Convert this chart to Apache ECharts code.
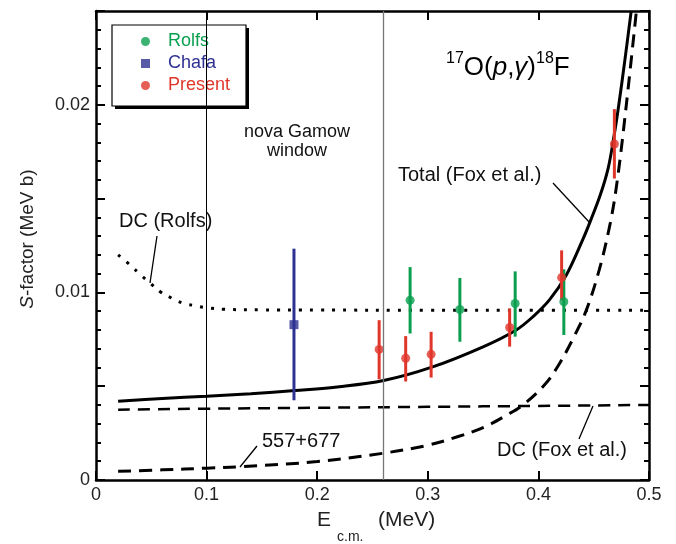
<!DOCTYPE html>
<html>
<head>
<meta charset="utf-8">
<script src="https://cdn.jsdelivr.net/npm/echarts@6/dist/echarts.min.js"></script>
<style>
  html, body { margin: 0; padding: 0; background: #fff; }
  #main { width: 676px; height: 544px; }
</style>
</head>
<body>
<div id="main"></div>
<script>
// 数据：E (MeV) 与 S 因子 (MeV b)
const totalE = [0.02, 0.06, 0.10, 0.14, 0.18, 0.22, 0.26, 0.303, 0.35, 0.38, 0.395, 0.41, 0.425, 0.44, 0.447, 0.456, 0.463, 0.468, 0.4727, 0.478, 0.4839];
const totalS = [0.0042, 0.00435, 0.00447, 0.0046, 0.00477, 0.00497, 0.0053, 0.0060, 0.0071, 0.0080, 0.0087, 0.0096, 0.0109, 0.0128, 0.0138, 0.0152, 0.0166, 0.0182, 0.0200, 0.0223, 0.0250];

const resE = [0.02, 0.06, 0.10, 0.131, 0.20, 0.26, 0.299, 0.326, 0.351, 0.371, 0.386, 0.406, 0.419, 0.431, 0.443, 0.455, 0.465, 0.4714, 0.4795, 0.4886];
const resS = [0.00046, 0.00054, 0.00063, 0.00071, 0.00098, 0.00143, 0.00184, 0.00229, 0.00282, 0.00345, 0.0040, 0.0051, 0.0062, 0.0075, 0.0090, 0.0112, 0.0137, 0.0160, 0.0200, 0.0250];

const dcFoxE = [0.02, 0.1, 0.2, 0.3, 0.4, 0.5];
const dcFoxS = [0.00375, 0.0038, 0.00385, 0.0039, 0.00395, 0.0040];

const dcRolfsE = [0.02, 0.031, 0.041, 0.049, 0.059, 0.069, 0.079, 0.089, 0.098, 0.116, 0.15, 0.2, 0.3, 0.4, 0.5];
const dcRolfsS = [0.0120, 0.01145, 0.0109, 0.0105, 0.0100, 0.00968, 0.00942, 0.0093, 0.0092, 0.0091, 0.00907, 0.00906, 0.00905, 0.00905, 0.00905];

// 实验点：能量、中心值、下限、上限
const rolfsE = [0.284, 0.329, 0.379, 0.423];
const rolfsS = [0.00958, 0.00909, 0.00941, 0.0095];
const rolfsLo = [0.00781, 0.00737, 0.00764, 0.00773];
const rolfsHi = [0.01135, 0.01077, 0.01112, 0.01123];

const chafaE = [0.179];
const chafaS = [0.00828];
const chafaLo = [0.00425];
const chafaHi = [0.01233];

const presentE = [0.256, 0.280, 0.303, 0.374, 0.421, 0.4687];
const presentS = [0.00696, 0.00649, 0.0067, 0.00813, 0.01079, 0.01791];
const presentLo = [0.00537, 0.00525, 0.00546, 0.00711, 0.00958, 0.01607];
const presentHi = [0.00852, 0.00767, 0.0079, 0.00914, 0.01224, 0.01977];

const xTicks = [0, 0.1, 0.2, 0.3, 0.4, 0.5];
const yTickLabels = ['0', '0.01', '0.02'];

const FONT = "'Liberation Sans', Arial, Helvetica, sans-serif";
const GREEN = '#0a9f4f';
const BLUE = '#2e3192';
const RED = '#e0362a';

const pairs = (xs, ys) => xs.map((x, i) => [x, ys[i]]);
const bars = (xs, lo, hi) => xs.map((x, i) => [x, lo[i], hi[i]]);

function errorBars(name, data, color) {
  return {
    name: name + ' err',
    type: 'custom',
    data: data,
    z: 3,
    renderItem: function (params, api) {
      const p1 = api.coord([api.value(0), api.value(1)]);
      const p2 = api.coord([api.value(0), api.value(2)]);
      return {
        type: 'line',
        shape: { x1: p1[0], y1: p1[1], x2: p2[0], y2: p2[1] },
        style: { stroke: color, lineWidth: 3 }
      };
    }
  };
}

const axisCommon = {
  type: 'value',
  axisLine: { show: true, onZero: false, lineStyle: { color: '#000', width: 2.5 } },
  axisTick: { show: true, inside: true, length: 9, lineStyle: { color: '#000', width: 2 } },
  splitLine: { show: false }
};

const chart = echarts.init(document.getElementById('main'));
chart.setOption({
  animation: false,
  backgroundColor: '#fff',
  grid: { left: 96, right: 27, top: 11, bottom: 64 },
  xAxis: [
    Object.assign({}, axisCommon, {
      position: 'bottom', min: 0, max: 0.5, interval: 0.1,
      axisLabel: {
        margin: 6, fontSize: 18, color: '#222', fontFamily: FONT,
        formatter: v => {
          const i = xTicks.findIndex(t => Math.abs(t - v) < 1e-9);
          return i < 0 ? '' : (i === 0 ? '0' : xTicks[i].toFixed(1));
        }
      }
    }),
    Object.assign({}, axisCommon, {
      position: 'top', min: 0, max: 0.5, interval: 0.1,
      axisLabel: { show: false }
    })
  ],
  yAxis: [
    Object.assign({}, axisCommon, {
      position: 'left', min: 0, max: 0.025, interval: 0.005,
      minorTick: { show: true, splitNumber: 5, length: 5, lineStyle: { color: '#000', width: 2 } },
      axisLabel: {
        margin: 6, fontSize: 18, color: '#222', fontFamily: FONT,
        formatter: v => {
          const k = Math.round(v * 100 * 1000) / 1000;
          return Number.isInteger(k) && k < yTickLabels.length ? yTickLabels[k] : '';
        }
      }
    }),
    Object.assign({}, axisCommon, {
      position: 'right', min: 0, max: 0.025, interval: 0.005,
      minorTick: { show: true, splitNumber: 5, length: 5, lineStyle: { color: '#000', width: 2 } },
      axisLabel: { show: false }
    })
  ],
  legend: {
    orient: 'vertical',
    left: 112, top: 25,
    padding: [7, 10, 9, 29],
    itemWidth: 9, itemHeight: 9, itemGap: 3,
    textStyle: { fontSize: 18, fontFamily: FONT, lineHeight: 19, padding: [0, 0, 0, 13] },
    data: [
      { name: 'Rolfs', icon: 'circle', textStyle: { color: GREEN } },
      { name: 'Chafa', icon: 'rect', textStyle: { color: BLUE } },
      { name: 'Present', icon: 'circle', textStyle: { color: RED } }
    ]
  },
  series: [
    {
      name: 'Total', type: 'line', data: pairs(totalE, totalS), smooth: 0.35,
      showSymbol: false, lineStyle: { color: '#000', width: 3 }, z: 2,
      markLine: {
        silent: true, symbol: 'none', label: { show: false },
        data: [
          { xAxis: 0.1, lineStyle: { color: '#000', width: 1, type: 'solid' } },
          { xAxis: 0.26, lineStyle: { color: '#777', width: 1.3, type: 'solid' } }
        ]
      }
    },
    {
      name: '557+677', type: 'line', data: pairs(resE, resS), smooth: 0.35,
      showSymbol: false, lineStyle: { color: '#000', width: 3, type: [13, 8] }, z: 2
    },
    {
      name: 'DC (Fox et al.)', type: 'line', data: pairs(dcFoxE, dcFoxS), smooth: true,
      showSymbol: false, lineStyle: { color: '#000', width: 2.5, type: [12, 8] }, z: 2
    },
    {
      name: 'DC (Rolfs)', type: 'line', data: pairs(dcRolfsE, dcRolfsS), smooth: 0.4,
      showSymbol: false, lineStyle: { color: '#000', width: 3, type: [3, 8] }, z: 2
    },
    errorBars('Rolfs', bars(rolfsE, rolfsLo, rolfsHi), GREEN),
    errorBars('Chafa', bars(chafaE, chafaLo, chafaHi), BLUE),
    errorBars('Present', bars(presentE, presentLo, presentHi), RED),
    { name: 'Rolfs', type: 'scatter', data: pairs(rolfsE, rolfsS), symbol: 'circle', symbolSize: 9, itemStyle: { color: GREEN }, z: 4 },
    { name: 'Chafa', type: 'scatter', data: pairs(chafaE, chafaS), symbol: 'rect', symbolSize: 9, itemStyle: { color: BLUE }, z: 4 },
    { name: 'Present', type: 'scatter', data: pairs(presentE, presentS), symbol: 'circle', symbolSize: 9, itemStyle: { color: RED }, z: 4 }
  ],
  graphic: [
    // 图例底框和阴影
    { type: 'rect', shape: { x: 115, y: 28, width: 134, height: 81 }, style: { fill: '#000' }, z: 1 },
    { type: 'rect', shape: { x: 112, y: 25, width: 134, height: 81 }, style: { fill: '#fff', stroke: '#000', lineWidth: 1.2 }, z: 2 },
    // 标题
    {
      type: 'text', x: 446, y: 68, z: 10,
      style: {
        text: '{s|17}{n|O(}{i|p}{n|,}{i|γ}{n|)}{s|18}{n|F}',
        verticalAlign: 'middle',
        rich: {
          n: { fontSize: 26, fontFamily: FONT, color: '#111', lineHeight: 34 },
          i: { fontSize: 26, fontFamily: FONT, fontStyle: 'italic', color: '#111', lineHeight: 34 },
          s: { fontSize: 16, fontFamily: FONT, color: '#111', lineHeight: 16, verticalAlign: 'top' }
        }
      }
    },
    { type: 'text', x: 297, y: 142, style: { text: 'nova Gamow\nwindow', font: '18px ' + FONT, fill: '#111', align: 'center', verticalAlign: 'middle', lineHeight: 19 } },
    { type: 'text', x: 398, y: 175, style: { text: 'Total (Fox et al.)', font: '20px ' + FONT, fill: '#111', verticalAlign: 'middle' } },
    { type: 'line', shape: { x1: 553, y1: 183, x2: 590, y2: 223 }, style: { stroke: '#000', lineWidth: 1.3 } },
    { type: 'text', x: 119, y: 221, style: { text: 'DC (Rolfs)', font: '20px ' + FONT, fill: '#111', verticalAlign: 'middle' } },
    { type: 'line', shape: { x1: 157, y1: 236, x2: 150, y2: 283 }, style: { stroke: '#000', lineWidth: 1.3 } },
    { type: 'text', x: 262, y: 441, style: { text: '557+677', font: '20px ' + FONT, fill: '#111', verticalAlign: 'middle' } },
    { type: 'line', shape: { x1: 257, y1: 446, x2: 240, y2: 467 }, style: { stroke: '#000', lineWidth: 1.3 } },
    { type: 'text', x: 497, y: 450, style: { text: 'DC (Fox et al.)', font: '20px ' + FONT, fill: '#111', verticalAlign: 'middle' } },
    { type: 'line', shape: { x1: 579, y1: 439, x2: 593, y2: 406 }, style: { stroke: '#000', lineWidth: 1.3 } },
    // 坐标轴标题
    {
      type: 'text', x: 28, y: 239, rotation: Math.PI / 2,
      style: {
        text: '{i|S}-factor (MeV b)', align: 'center', verticalAlign: 'middle',
        font: '19px ' + FONT, fill: '#222',
        rich: { i: { fontStyle: 'italic', fontSize: 19, fontFamily: FONT, color: '#222' } }
      }
    },
    { type: 'text', x: 317, y: 520, style: { text: 'E', font: '21px ' + FONT, fill: '#222', verticalAlign: 'middle' } },
    { type: 'text', x: 337, y: 537, style: { text: 'c.m.', font: '14px ' + FONT, fill: '#222', verticalAlign: 'middle' } },
    { type: 'text', x: 378, y: 520, style: { text: '(MeV)', font: '21px ' + FONT, fill: '#222', verticalAlign: 'middle' } }
  ]
});
</script>
</body>
</html>
